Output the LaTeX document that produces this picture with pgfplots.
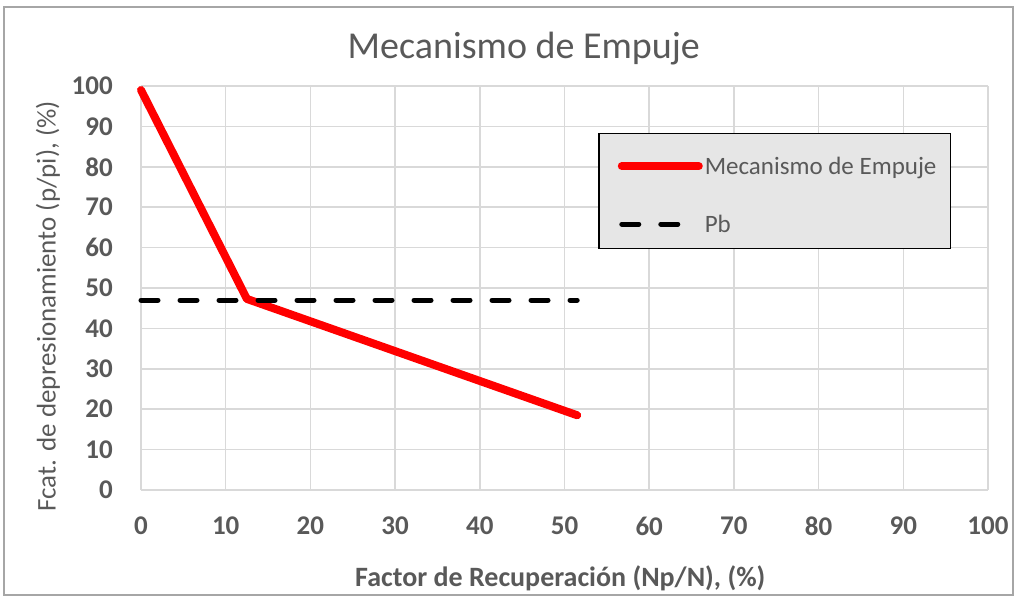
\documentclass[border=0pt]{standalone}
\usepackage{fontspec}
\setmainfont{Carlito}
\usepackage{pgfplots}
\pgfplotsset{compat=1.18}
\definecolor{txtgray}{HTML}{595959}
\definecolor{gridgray}{HTML}{D9D9D9}
\definecolor{legfill}{HTML}{E6E6E6}
\definecolor{framegray}{HTML}{A6A6A6}
\begin{document}
\begin{tikzpicture}
\path[use as bounding box] (0pt,0pt) rectangle (1017pt,598pt);
\draw[framegray, line width=2pt] (4pt,3pt) rectangle (1013pt,591pt);
\begin{axis}[
  at={(141pt,108pt)}, anchor=south west,
  scale only axis, width=847pt, height=404pt,
  xmin=0, xmax=100, ymin=0, ymax=100,
  xtick distance=10, ytick distance=10,
  grid=major, major grid style={gridgray, line width=1.5pt},
  axis line style={draw=none},
  major tick length=0pt,
  /pgf/number format/assume math mode=true,
  ticklabel style={font=\bfseries\fontsize{27}{30}\selectfont, text=txtgray, inner sep=0pt},
  yticklabel style={anchor=east, xshift=-28pt},
  xticklabel style={anchor=north, yshift=-27pt},
  title={Mecanismo de Empuje},
  title style={font=\fontsize{38}{44}\selectfont, text=txtgray, anchor=center, at={(0.452,1.0767)}},
  xlabel={Factor de Recuperación (Np/N), (\%)},
  xlabel style={font=\bfseries\fontsize{28}{32}\selectfont, text=txtgray, anchor=center, at={(0.495,-0.2178)}},
  ylabel={Fcat. de depresionamiento (p/pi), (\%)},
  ylabel style={font=\fontsize{27}{30}\selectfont, text=txtgray, anchor=center, at={(-0.1098,0.455)}},
  clip=false,
  legend image code/.code={\path (0pt,0pt); \draw[#1] (7pt,0pt) -- (84pt,0pt);},
  legend style={at={(0.5396,0.884)}, anchor=north west, fill=legfill, draw=black, line width=1.5pt,
    font=\fontsize{25}{30}\selectfont, text=txtgray,
    inner xsep=12pt, inner ysep=11pt, row sep=23pt,
    nodes={inner sep=2pt, text height=28pt, text depth=3pt},
    cells={anchor=west},
    /tikz/every even column/.append style={column sep=0pt, yshift=4pt}},
]
\addplot[red, line width=8pt, line cap=round, line join=round]
  coordinates {(0,99) (12.5,47.3) (51.5,18.5)};
\addlegendentry{Mecanismo de Empuje}
\addplot[black, line width=5pt, line cap=round, dash pattern=on 17pt off 22pt]
  coordinates {(0,47) (51.5,47)};
\addlegendentry{Pb}
\end{axis}
\end{tikzpicture}
\end{document}
